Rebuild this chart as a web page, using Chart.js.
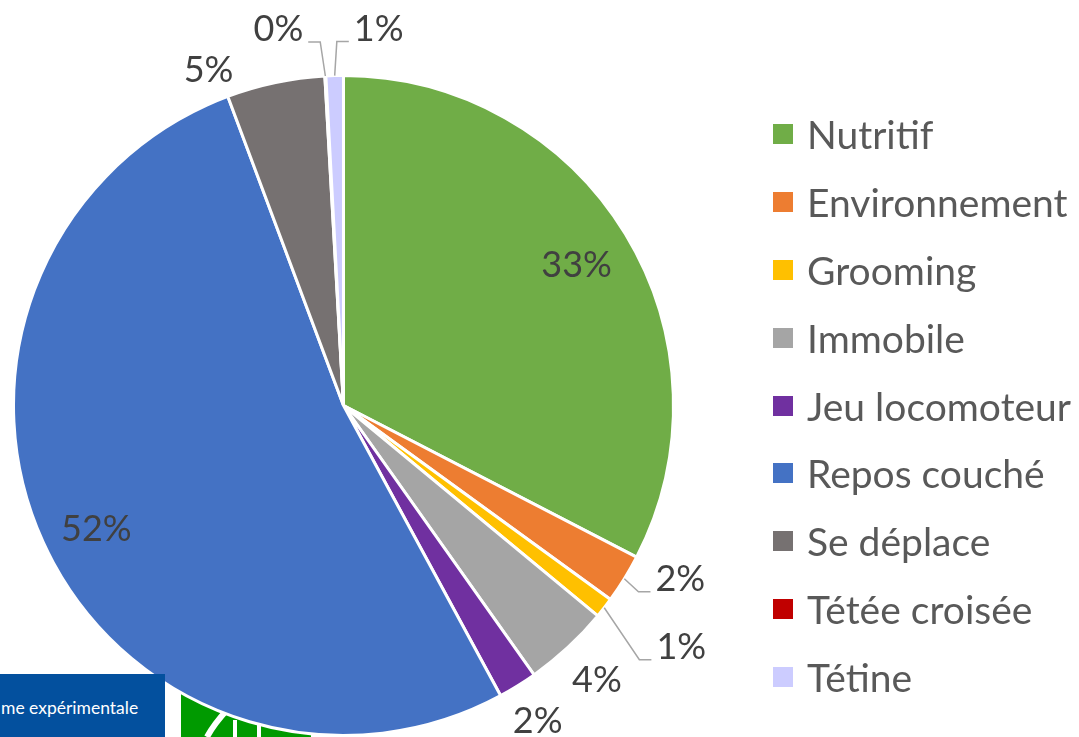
<!DOCTYPE html>
<html>
<head>
<meta charset="utf-8">
<script src="https://cdn.jsdelivr.net/npm/chart.js@4.4.1/dist/chart.umd.min.js"></script>
<style>
  body { margin: 0; background: #fff; width: 1079px; height: 737px; overflow: hidden; position: relative; font-family: Lato, sans-serif; }
  #logo { position: absolute; left: 181px; top: 688px; }
  #pie { position: absolute; left: 0; top: 0; }
  #legend { position: absolute; left: 773px; top: 100px; margin: 0; padding: 0; list-style: none; }
  #legend li { height: 67.9px; display: flex; align-items: center; font-size: 39px; color: #595959; white-space: nowrap; }
  #legend .box { width: 20px; height: 20px; margin-right: 14px; flex: none; }
  #banner { position: absolute; left: 0; top: 674px; width: 165px; height: 63px; background: #03509e; overflow: hidden; }
  #banner span { position: absolute; left: 1px; top: 24px; font-size: 17.5px; line-height: 20px; color: #fff; white-space: nowrap; }
</style>
</head>
<body>
<svg id="logo" width="130" height="49">
  <rect x="0" y="0" width="130" height="49" fill="#009a00"/>
  <path d="M46 22 Q 33 36 26 49" stroke="#fff" stroke-width="6" fill="none"/>
  <line x1="54" y1="32" x2="54" y2="49" stroke="#fff" stroke-width="4"/>
  <line x1="78" y1="34" x2="78" y2="49" stroke="#fff" stroke-width="4"/>
</svg>
<canvas id="pie" width="1079" height="737"></canvas>
<ul id="legend"></ul>
<div id="banner"><span>me expérimentale</span></div>
<script>
// comportements (% du temps)
const categories = ["Nutritif", "Environnement", "Grooming", "Immobile", "Jeu locomoteur", "Repos couché", "Se déplace", "Tétée croisée", "Tétine"];
const shares = [32.6, 2.4, 1.0, 4.2, 1.9, 52.2, 4.8, 0.05, 0.85];
const sliceColors = ["#70ad47", "#ed7d31", "#ffc000", "#a5a5a5", "#7030a0", "#4472c4", "#767171", "#c00000", "#ccccff"];

// where each % label goes: inside = fraction of radius, else offset from the slice's outer edge
const labelSpots = [
  { inside: 0.827, dx: 0, dy: 0 },
  { dx: 56, dy: -1, leader: true },
  { dx: 77, dy: 38, leader: true },
  { dx: 29, dy: 32 },
  { dx: 20, dy: 34 },
  { inside: 0.836, dx: 4, dy: 8 },
  { dx: -67, dy: -14 },
  { dx: -47, dy: -48, leader: true },
  { dx: 44, dy: -48, leader: true }
];

const pctLabels = {
  id: "pctLabels",
  afterDatasetsDraw(chart) {
    const ctx = chart.ctx;
    const arcs = chart.getDatasetMeta(0).data;
    const total = shares.reduce((a, b) => a + b, 0);
    ctx.save();
    ctx.font = "36px Lato";
    ctx.fillStyle = "#404040";
    ctx.textAlign = "center";
    ctx.textBaseline = "alphabetic";
    arcs.forEach((arc, i) => {
      const p = labelSpots[i];
      const mid = (arc.startAngle + arc.endAngle) / 2;
      const r = p.inside ? arc.outerRadius * p.inside : arc.outerRadius;
      const ex = arc.x + Math.cos(mid) * r;
      const ey = arc.y + Math.sin(mid) * r;
      const lx = ex + p.dx, ly = ey + p.dy;
      const txt = Math.round(shares[i] / total * 100) + "%";
      if (p.leader) {
        const w = ctx.measureText(txt).width;
        const right = p.dx > 0;
        const endX = right ? lx - w / 2 - 5 : lx + w / 2 + 5;
        const elbowX = right ? endX - 12 : endX + 12;
        const yy = ly + 14;
        ctx.strokeStyle = "#a6a6a6";
        ctx.lineWidth = 1.5;
        ctx.beginPath();
        ctx.moveTo(ex, ey);
        ctx.lineTo(elbowX, yy);
        ctx.lineTo(endX, yy);
        ctx.stroke();
      }
      ctx.fillText(txt, lx, ly + 13);
    });
    ctx.restore();
  }
};

const chart = new Chart(document.getElementById("pie"), {
  type: "pie",
  data: {
    labels: categories,
    datasets: [{
      data: shares,
      backgroundColor: sliceColors,
      borderColor: "#ffffff",
      borderWidth: 3
    }]
  },
  options: {
    responsive: false,
    devicePixelRatio: 1,
    animation: false,
    layout: { padding: { top: 74, left: 12, right: 404, bottom: 0 } },
    plugins: {
      legend: { display: false },
      tooltip: { enabled: false }
    }
  },
  plugins: [pctLabels]
});

// legend on the right
const legendEl = document.getElementById("legend");
categories.forEach((name, i) => {
  const li = document.createElement("li");
  const box = document.createElement("span");
  box.className = "box";
  box.style.background = sliceColors[i];
  li.appendChild(box);
  li.appendChild(document.createTextNode(name));
  legendEl.appendChild(li);
});
</script>
</body>
</html>
